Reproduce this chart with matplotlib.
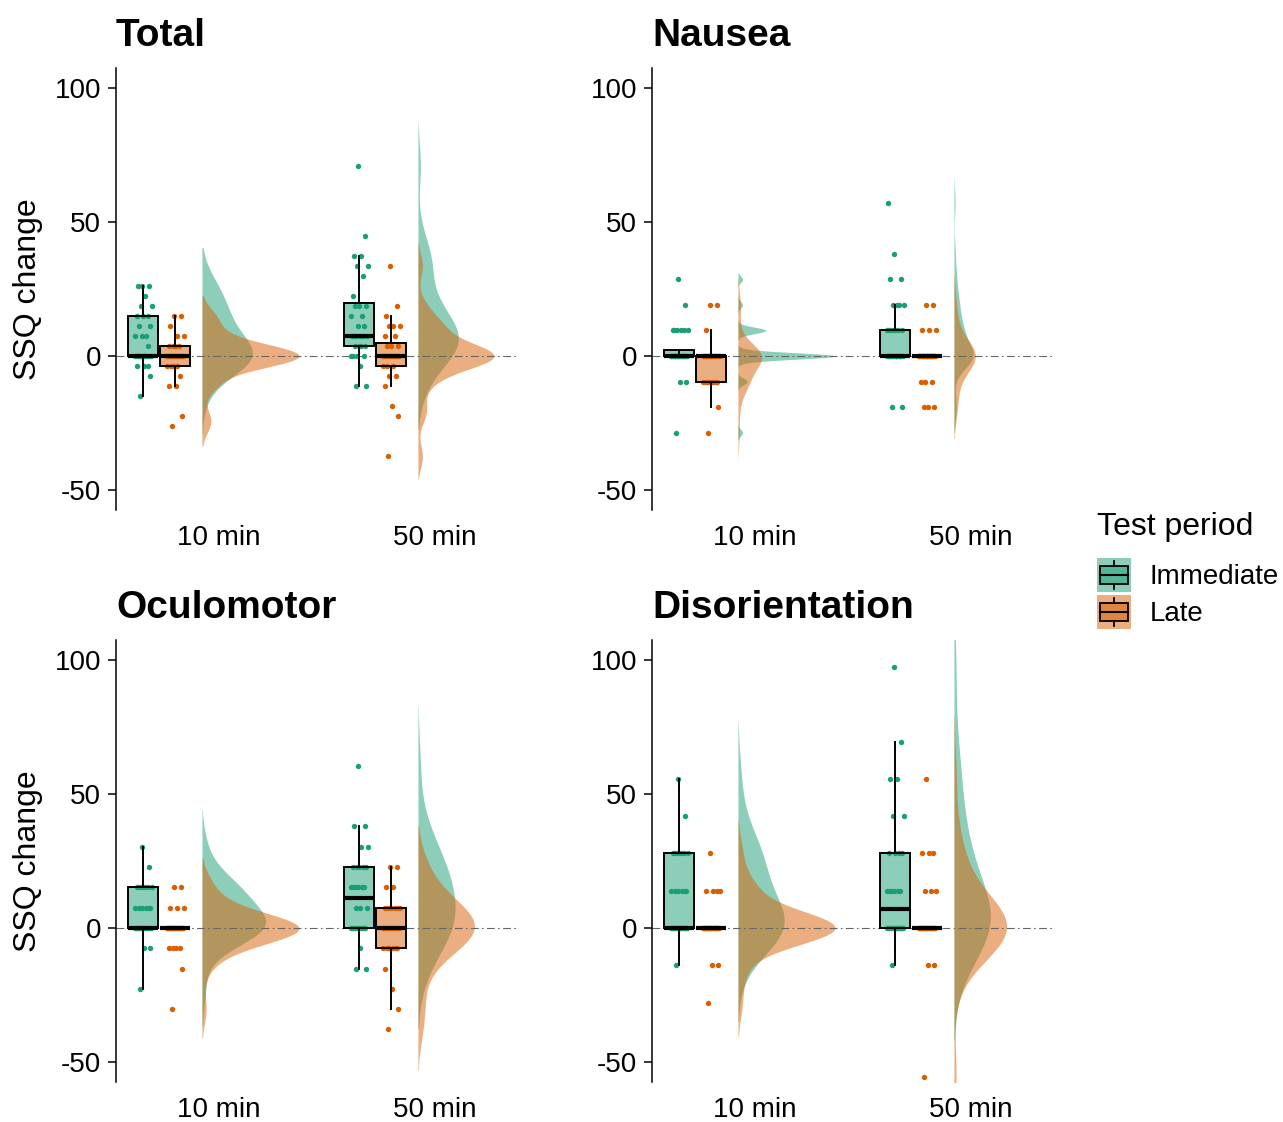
import numpy as np
import matplotlib
matplotlib.use("Agg")
import matplotlib.pyplot as plt
from matplotlib.patches import Rectangle
from matplotlib.lines import Line2D
from matplotlib.legend_handler import HandlerBase

plt.rcParams['font.family'] = ['Liberation Sans', 'DejaVu Sans']
plt.rcParams['axes.unicode_minus'] = False

panels = ['Total', 'Nausea', 'Oculomotor', 'Disorientation']
times = ['10 min', '50 min']
periods = ['Immediate', 'Late']
colors = ['#1B9E77', '#D95F02']

# SSQ change value -> number of participants
total_10_imm = {26.18: 3, 22.44: 1, 18.70: 2, 14.96: 3, 11.22: 2, 7.48: 3, 3.74: 1,
                0: 12, -3.74: 3, -7.48: 1, -14.96: 1}
total_10_late = {14.96: 2, 11.22: 1, 7.48: 2, 3.74: 4, 0: 14, -3.74: 4, -7.48: 1,
                 -11.22: 2, -22.44: 1, -26.18: 1}
total_50_imm = {71.06: 1, 44.88: 1, 37.40: 2, 33.66: 2, 29.92: 1, 22.44: 1, 18.70: 3,
                14.96: 2, 11.22: 2, 7.48: 6, 3.74: 4, 0: 4, -3.74: 1, -11.22: 2}
total_50_late = {33.66: 1, 18.70: 1, 14.96: 1, 11.22: 3, 7.48: 2, 3.74: 3, 0: 12,
                 -3.74: 3, -7.48: 2, -11.22: 1, -18.70: 1, -22.44: 1, -37.40: 1}

nausea_10_imm = {28.62: 1, 19.08: 1, 9.54: 6, 0: 21, -9.54: 2, -28.62: 1}
nausea_10_late = {19.08: 2, 9.54: 1, 0: 19, -9.54: 8, -19.08: 1, -28.62: 1}
nausea_50_imm = {57.24: 1, 38.16: 1, 28.62: 2, 19.08: 4, 9.54: 7, 0: 16, -19.08: 2}
nausea_50_late = {19.08: 2, 9.54: 3, 0: 21, -9.54: 3, -19.08: 3}

oculo_10_imm = {30.32: 1, 22.74: 1, 15.16: 7, 7.58: 6, 0: 14, -7.58: 2, -22.74: 1}
oculo_10_late = {15.16: 2, 7.58: 3, 0: 21, -7.58: 4, -15.16: 1, -30.32: 1}
oculo_50_imm = {60.64: 1, 37.90: 2, 30.32: 2, 22.74: 5, 15.16: 6, 7.58: 3, 0: 10,
                -7.58: 1, -15.16: 2}
oculo_50_late = {22.74: 2, 15.16: 2, 7.58: 7, 0: 11, -7.58: 6, -15.16: 1, -22.74: 1,
                 -30.32: 1, -37.90: 1}

disor_10_imm = {55.68: 1, 41.76: 1, 27.84: 7, 13.92: 6, 0: 16, -13.92: 1}
disor_10_late = {27.84: 1, 13.92: 4, 0: 24, -13.92: 2, -27.84: 1}
disor_50_imm = {97.44: 1, 69.60: 1, 55.68: 2, 41.76: 2, 27.84: 4, 13.92: 6, 0: 15, -13.92: 1}
disor_50_late = {55.68: 1, 27.84: 3, 13.92: 3, 0: 22, -13.92: 2, -55.68: 1}

data = {
    'Total': [[total_10_imm, total_10_late], [total_50_imm, total_50_late]],
    'Nausea': [[nausea_10_imm, nausea_10_late], [nausea_50_imm, nausea_50_late]],
    'Oculomotor': [[oculo_10_imm, oculo_10_late], [oculo_50_imm, oculo_50_late]],
    'Disorientation': [[disor_10_imm, disor_10_late], [disor_50_imm, disor_50_late]],
}


def expand(counts):
    vals = np.array(list(counts.keys()), dtype=float)
    n = np.array(list(counts.values()))
    return np.sort(np.repeat(vals, n))


def bw_nrd0(x):
    hi = np.std(x, ddof=1)
    q75, q25 = np.percentile(x, [75, 25])
    lo = min(hi, (q75 - q25) / 1.34)
    if not lo:
        lo = hi or abs(x[0]) or 1.0
    return 0.9 * lo * len(x) ** -0.2


def kde(x, adjust=1.5):
    # untrimmed half violin: range +- 3 bw, kernel width bw * adjust
    bw = bw_nrd0(x)
    grid = np.linspace(x.min() - 3 * bw, x.max() + 3 * bw, 512)
    h = bw * adjust
    z = (grid[:, None] - x[None, :]) / h
    dens = np.exp(-0.5 * z ** 2).sum(axis=1) / (len(x) * h * np.sqrt(2 * np.pi))
    return grid, dens


def box_stats(x):
    q1, med, q3 = np.percentile(x, [25, 50, 75])
    iqr = q3 - q1
    lo_f = q1 - 1.5 * iqr - 1e-9
    hi_f = q3 + 1.5 * iqr + 1e-9
    return dict(med=med, q1=q1, q3=q3, whislo=x[x >= lo_f].min(),
                whishi=x[x <= hi_f].max(), fliers=[])


def spread(n, half=0.04):
    i = np.arange(n)
    return ((i * 0.618034 + 0.31) % 1.0 - 0.5) * 2 * half


box_off = [-0.352, -0.204]
box_w = 0.139
dens_base = -0.079
dens_w = 0.449

fig = plt.figure(figsize=(12.83, 11.22), dpi=100)
W, H = 1283, 1122
ax_pos = {'Total': (116, 510), 'Nausea': (652, 510),
          'Oculomotor': (116, 1082), 'Disorientation': (652, 1082)}

for name in panels:
    left, bottom = ax_pos[name]
    ax = fig.add_axes([left / W, 1 - bottom / H, 400 / W, 442 / H])
    groups = data[name]
    dens_all = [[kde(expand(g)) for g in pair] for pair in groups]
    dmax = max(d.max() for pair in dens_all for _, d in pair)

    for t, pair in enumerate(groups):
        xc = t + 1
        for p, g in enumerate(pair):
            grid, d = dens_all[t][p]
            ax.fill_betweenx(grid, xc + dens_base, xc + dens_base + d / dmax * dens_w,
                             color=colors[p], alpha=0.5, lw=0, zorder=1)
        for p, g in enumerate(pair):
            x = expand(g)
            pos = xc + box_off[p]
            ax.scatter(pos + spread(len(x)), x, s=15, color=colors[p], lw=0, zorder=2)
            ax.bxp([box_stats(x)], positions=[pos], widths=box_w, patch_artist=True,
                   showcaps=False, showfliers=False, manage_ticks=False,
                   boxprops=dict(facecolor=colors[p], edgecolor='black', linewidth=1.4),
                   medianprops=dict(color='black', linewidth=3.0, solid_capstyle='butt'),
                   whiskerprops=dict(color='black', linewidth=1.4), zorder=3)
    for patch in ax.patches:
        fc = patch.get_facecolor()
        patch.set_facecolor((fc[0], fc[1], fc[2], 0.5))

    ax.axhline(0, color='#666666', lw=0.8, ls=(0, (7, 3, 1.5, 3)), zorder=1.5)

    ax.set_xlim(0.523, 2.375)
    ax.set_ylim(-57.5, 107.5)
    ax.set_yticks([-50, 0, 50, 100])
    ax.set_xticks([1, 2])
    ax.set_xticklabels(times)
    ax.tick_params(axis='x', length=0, pad=10.5, labelsize=20, labelcolor='black')
    ax.tick_params(axis='y', length=5.8, width=1.1, pad=5, labelsize=20, labelcolor='black')
    for s in ['top', 'right', 'bottom']:
        ax.spines[s].set_visible(False)
    ax.spines['left'].set_linewidth(1.1)
    ax.set_title(name, loc='left', fontsize=28, fontweight='bold', pad=16)

fig.text(28 / W, 1 - 289 / H, 'SSQ change', rotation=90, ha='center', va='center', fontsize=23)
fig.text(28 / W, 1 - 861 / H, 'SSQ change', rotation=90, ha='center', va='center', fontsize=23)


class BoxKeyHandler(HandlerBase):
    def create_artists(self, legend, orig_handle, xdescent, ydescent, width, height,
                       fontsize, trans):
        c = orig_handle.get_facecolor()[:3]
        x0, y0 = -xdescent, -ydescent
        h = height
        bg = Rectangle((x0, y0), width, h, facecolor=(*c, 0.5), lw=0, transform=trans)
        box = Rectangle((x0 + 0.09 * width, y0 + 0.24 * h), 0.82 * width, 0.52 * h,
                        facecolor=(*c, 0.5), edgecolor='black', lw=1.3, transform=trans)
        xm = x0 + 0.5 * width
        med = Line2D([x0 + 0.09 * width, x0 + 0.91 * width], [y0 + 0.5 * h] * 2,
                     color='black', lw=1.5, transform=trans)
        w1 = Line2D([xm, xm], [y0 + 0.08 * h, y0 + 0.24 * h], color='black', lw=1.3,
                    transform=trans)
        w2 = Line2D([xm, xm], [y0 + 0.76 * h, y0 + 0.92 * h], color='black', lw=1.3,
                    transform=trans)
        return [bg, box, med, w1, w2]


handles = [Rectangle((0, 0), 1, 1, facecolor=c) for c in colors]
fig.legend(handles, periods, loc='upper left', bbox_to_anchor=(1097 / W, 1 - 558 / H),
           frameon=False, borderpad=0, borderaxespad=0, handlelength=1.22, handleheight=1.51,
           labelspacing=0.1, handletextpad=0.68, fontsize=20,
           handler_map={Rectangle: BoxKeyHandler()})
fig.text(1097 / W, 1 - 527 / H, 'Test period', fontsize=23, ha='left', va='center')

fig.savefig('out.png', dpi=100)
